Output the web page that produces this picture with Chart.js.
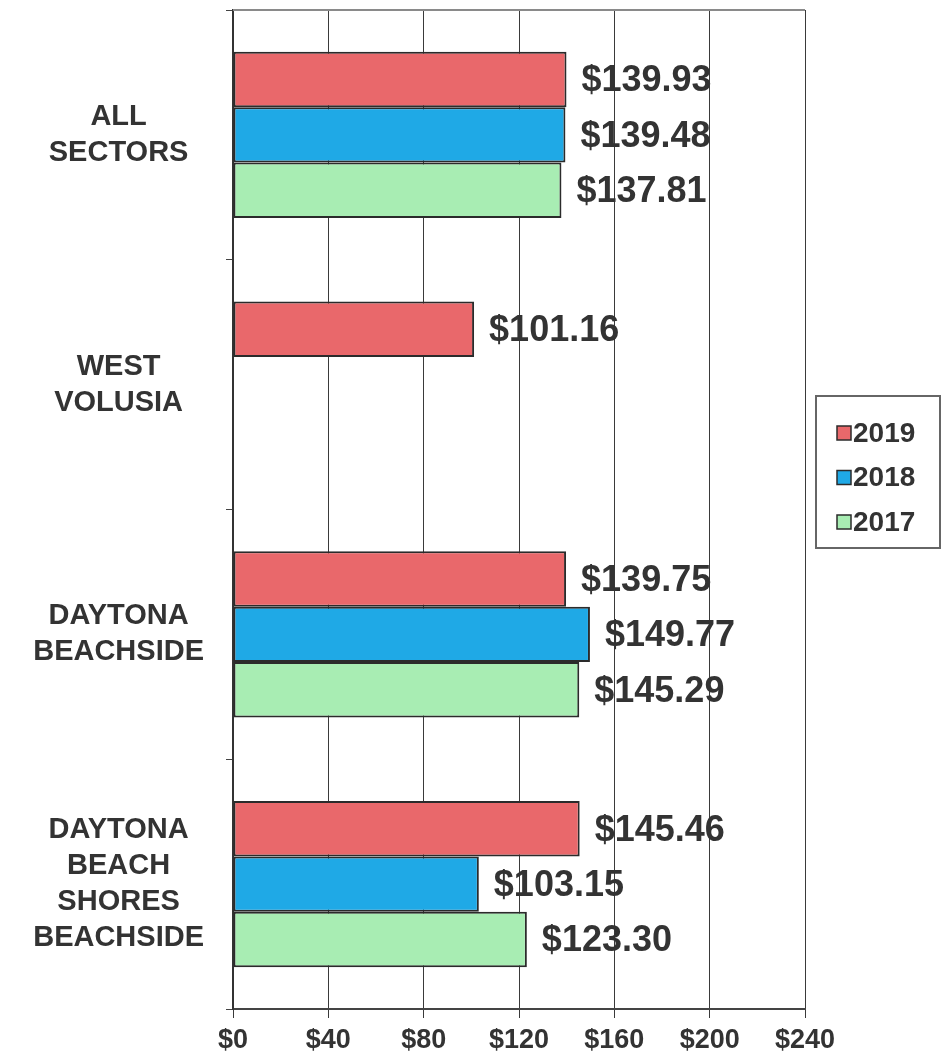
<!DOCTYPE html>
<html lang="en">
  <head>
    <meta charset="utf-8" />
    <title>Average daily rate by sector</title>
    <style>
      * {
        margin: 0;
        padding: 0;
      }
      body {
        background: #fff;
      }
      .chartBox {
        width: 945px;
        height: 1055px;
      }
    </style>
  </head>
  <body>
    <div class="chartBox">
      <canvas id="myChart"></canvas>
    </div>

    <script src="https://cdn.jsdelivr.net/npm/chart.js"></script>
    <script>
      const categories = [
        ["ALL", "SECTORS"],
        ["WEST", "VOLUSIA"],
        ["DAYTONA", "BEACHSIDE"],
        ["DAYTONA", "BEACH", "SHORES", "BEACHSIDE"],
      ];
      const years = ["2019", "2018", "2017"];
      const values2019 = [139.93, 101.16, 139.75, 145.46];
      const values2018 = [139.48, null, 149.77, 103.15];
      const values2017 = [137.81, null, 145.29, 123.3];
      const xTickValues = [0, 40, 80, 120, 160, 200, 240];

      const barColors = ["#e9686b", "#1fa9e6", "#a8edb3"];
      const textColor = "#333";
      const fontFamily = "'Liberation Sans', Arial, sans-serif";

      Chart.defaults.font.family = fontFamily;
      Chart.defaults.color = textColor;

      const data = {
        labels: categories,
        datasets: [values2019, values2018, values2017].map((vals, i) => ({
          label: years[i],
          data: vals,
          backgroundColor: barColors[i],
          borderColor: "#2b2b2b",
          borderWidth: 2,
          borderSkipped: false,
          categoryPercentage: 0.665,
          barPercentage: 1,
        })),
      };

      // dollar amounts to the right of each bar
      const valueLabels = {
        id: "valueLabels",
        afterDatasetsDraw(chart) {
          const { ctx } = chart;
          ctx.save();
          ctx.font = "bold 36px " + fontFamily;
          ctx.fillStyle = textColor;
          ctx.textBaseline = "middle";
          chart.data.datasets.forEach((ds, i) => {
            chart.getDatasetMeta(i).data.forEach((bar, j) => {
              const v = ds.data[j];
              if (v == null) return;
              ctx.fillText("$" + v.toFixed(2), bar.x + 15, bar.y + 2);
            });
          });
          ctx.restore();
        },
      };

      // top edge of the plot frame
      const plotFrame = {
        id: "plotFrame",
        beforeDatasetsDraw(chart) {
          const { ctx, chartArea: a } = chart;
          ctx.save();
          ctx.strokeStyle = "#8a8a8a";
          ctx.lineWidth = 2;
          ctx.beginPath();
          ctx.moveTo(a.left, a.top);
          ctx.lineTo(a.right, a.top);
          ctx.stroke();
          ctx.restore();
        },
      };

      // legend drawn in a box on the right
      const boxedLegend = {
        id: "boxedLegend",
        afterDraw(chart) {
          const { ctx, chartArea: a } = chart;
          const left = a.right + 11;
          const top = 396;
          const w = 124;
          const h = 152;
          ctx.save();
          ctx.strokeStyle = "#666";
          ctx.lineWidth = 2;
          ctx.strokeRect(left, top, w, h);
          ctx.font = "bold 28px " + fontFamily;
          ctx.textBaseline = "middle";
          chart.data.datasets.forEach((ds, i) => {
            const cy = top + 37 + i * 44.5;
            ctx.fillStyle = ds.backgroundColor;
            ctx.fillRect(left + 21, cy - 7, 14, 14);
            ctx.strokeStyle = "#2b2b2b";
            ctx.lineWidth = 1.5;
            ctx.strokeRect(left + 21, cy - 7, 14, 14);
            ctx.fillStyle = textColor;
            ctx.fillText(ds.label, left + 37, cy + 1);
          });
          ctx.restore();
        },
      };

      const config = {
        type: "bar",
        data: data,
        options: {
          indexAxis: "y",
          responsive: true,
          maintainAspectRatio: false,
          animation: false,
          layout: {
            padding: { top: 10, right: 140, bottom: 0, left: 0 },
          },
          plugins: {
            legend: { display: false },
            tooltip: { enabled: false },
          },
          scales: {
            x: {
              min: xTickValues[0],
              max: xTickValues[xTickValues.length - 1],
              afterBuildTicks: (scale) => {
                scale.ticks = xTickValues.map((v) => ({ value: v }));
              },
              afterFit: (scale) => {
                scale.height = 46;
                scale.paddingLeft = 0;
                scale.paddingRight = 0;
              },
              ticks: {
                callback: (v) => "$" + v,
                font: { size: 27, weight: "bold", lineHeight: 1 },
                color: textColor,
                padding: 9,
                maxRotation: 0,
              },
              grid: {
                color: "#3a3a3a",
                lineWidth: 1,
                tickLength: 9,
              },
              border: { color: "#444", width: 2 },
            },
            y: {
              afterFit: (scale) => {
                scale.width = 233;
                scale.paddingTop = 0;
                scale.paddingBottom = 0;
              },
              ticks: {
                crossAlign: "center",
                padding: 22,
                font: { size: 29, weight: "bold", lineHeight: 1.24 },
                color: textColor,
              },
              grid: {
                drawOnChartArea: false,
                color: "#444",
                tickLength: 7,
              },
              border: { color: "#333", width: 2 },
            },
          },
        },
        plugins: [plotFrame, valueLabels, boxedLegend],
      };

      const myChart = new Chart(document.getElementById("myChart"), config);
    </script>
  </body>
</html>
